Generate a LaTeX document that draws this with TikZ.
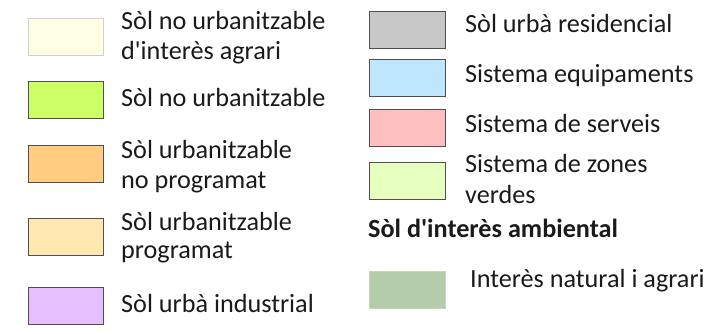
\documentclass[tikz,border=0pt]{standalone}
\usepackage{fontspec}
\setmainfont{Carlito}[Ligatures=TeXOff]
\definecolor{txt}{HTML}{1A1A1A}
\definecolor{cA}{HTML}{FFFFE6}
\definecolor{cB}{HTML}{CCFF66}
\definecolor{cC}{HTML}{FFCC80}
\definecolor{cD}{HTML}{FFE8B0}
\definecolor{cE}{HTML}{E6BFFF}
\definecolor{cF}{HTML}{C8C8C8}
\definecolor{cG}{HTML}{BFE6FF}
\definecolor{cH}{HTML}{FFBFBF}
\definecolor{cI}{HTML}{E6FFBF}
\definecolor{cJ}{HTML}{B5CCAA}
\definecolor{edge}{HTML}{505050}
\begin{document}
\begin{tikzpicture}[x=1pt,y=-1pt,
  swatch/.style={draw=edge,line width=0.9pt,minimum width=75pt,minimum height=37pt,inner sep=0pt},
  lbl/.style={anchor=base west,inner sep=0pt,text=txt,font=\fontsize{26.2}{30}\selectfont}]
\useasboundingbox (0,0) rectangle (720,334);
% left column
\node[swatch,fill=cA,draw=black!18] (s1) at (65.5,36.5) {};
\node[swatch,fill=cB] (s2) at (65.5,99.5) {};
\node[swatch,fill=cC] (s3) at (65.5,163.5) {};
\node[swatch,fill=cD] (s4) at (65.5,237) {};
\node[swatch,fill=cE] (s5) at (65.5,305.5) {};
\node[lbl] (t1a) at (121,29.5) {Sòl no urbanitzable};
\node[lbl] (t1b) at (121,60) {d'interès agrari};
\node[lbl] (t2) at (121,107) {Sòl no urbanitzable};
\node[lbl] (t3a) at (121,158) {Sòl urbanitzable};
\node[lbl] (t3b) at (121,188) {no programat};
\node[lbl] (t4a) at (121,230) {Sòl urbanitzable};
\node[lbl] (t4b) at (121,258) {programat};
\node[lbl] (t5) at (121,312) {Sòl urbà industrial};
% right column
\node[swatch,fill=cF,minimum width=76pt] (r1) at (407,29.5) {};
\node[swatch,fill=cG,minimum width=76pt] (r2) at (407,78) {};
\node[swatch,fill=cH,minimum width=76pt] (r3) at (407,128) {};
\node[swatch,fill=cI,minimum width=76pt] (r4) at (407,181) {};
\node[swatch,fill=cJ,draw=cJ!80!white,minimum width=76pt] (r5) at (407,290) {};
\node[lbl] (u1) at (465,33) {Sòl urbà residencial};
\node[lbl] (u2) at (465,83) {Sistema equipaments};
\node[lbl] (u3) at (465,133) {Sistema de serveis};
\node[lbl] (u4a) at (465,172) {Sistema de zones};
\node[lbl] (u4b) at (465,203) {verdes};
\node[lbl,font=\fontsize{26.2}{30}\selectfont\bfseries] (h) at (368,237) {Sòl d'interès ambiental};
\node[lbl] (u5) at (470,287) {Interès natural i agrari};
\end{tikzpicture}
\end{document}
